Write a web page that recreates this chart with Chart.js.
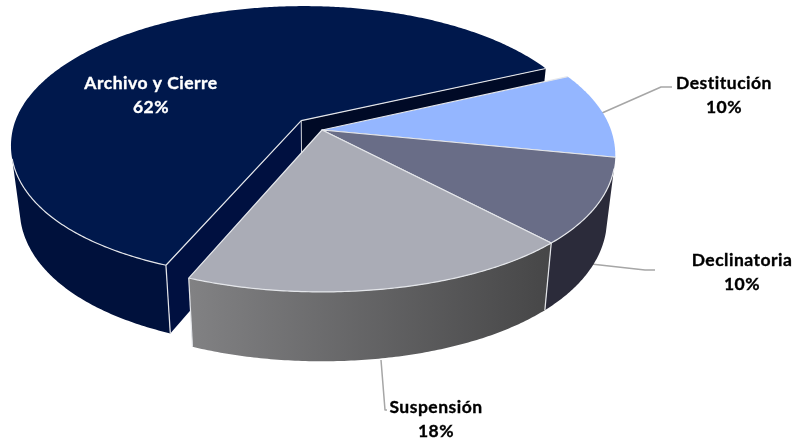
<!DOCTYPE html>
<html><head><meta charset="utf-8">
<style>html,body{margin:0;padding:0;background:#fff}#w{width:795px;height:441px}</style>
<script src="https://cdn.jsdelivr.net/npm/chart.js@4"></script></head>
<body><div id="w"><canvas id="c" width="795" height="441"></canvas></div>
<script>
const categories = ['Archivo y Cierre','Destitución','Declinatoria','Suspensión'];
const percentages = [62,10,10,18];
const topColors = ['#00184c','#94b6ff','#696d87','#aaacb6'];
const wallColors = ['#00113c','#6f88bf','#2b2b3a',null];
const explodeOffsets = [29,0,0,0];

const TILT = 0.47, PERSP = 0.161, DEPTH = 62, SHRINK = 0.00045, FRONT_WIDEN = 0.055, FRONT_SIN = 0.27;
const labelLayout = [
  {x:151,y:83,color:'#ffffff',line:null},
  {x:724,y:83,color:'#000000',line:[[602,113],[661,87],[672,87]]},
  {x:742,y:260,color:'#000000',line:[[591,264],[645,270],[655,270]]},
  {x:436,y:407,color:'#000000',line:[[381,360],[385,410],[387,410]]}
];
function project(el,px,py,z){
  const v = py/el.outerRadius, w = 1 - PERSP*v, s = 1 - SHRINK*z;
  const widen = 1 + FRONT_WIDEN*Math.max(0,v)*Math.max(0,v);
  return [el.x + px/w*s*widen, el.y + TILT*py/w*s + z/w];
}
function polar(el,ox,oy,a,r,z){ return project(el, ox+r*Math.cos(a), oy+r*Math.sin(a), z); }
function poly(ctx,pts){ ctx.beginPath(); pts.forEach((p,i)=>i?ctx.lineTo(p[0],p[1]):ctx.moveTo(p[0],p[1])); ctx.closePath(); }
function angles(el,frontOnly){
  const out=[], n=Math.max(2,Math.ceil((el.endAngle-el.startAngle)/0.01));
  for(let i=0;i<=n;i++){ const a=el.startAngle+(el.endAngle-el.startAngle)*i/n; if(!frontOnly||Math.sin(a)>FRONT_SIN) out.push(a); }
  return out;
}
function stroke(ctx,pts,color,width){ ctx.beginPath(); pts.forEach((p,i)=>i?ctx.lineTo(p[0],p[1]):ctx.moveTo(p[0],p[1])); ctx.strokeStyle=color; ctx.lineWidth=width; ctx.lineJoin='round'; ctx.stroke(); }

const pie3d = {
  id:'pie3d',
  beforeDatasetsDraw(chart){
    const ctx = chart.ctx, els = chart.getDatasetMeta(0).data;
    ctx.save();
    labelLayout.forEach(l=>{ if(l.line) stroke(ctx,l.line,'#a6a6a6',1.5); });
    els.forEach((el,i)=>{
      const mid=(el.startAngle+el.endAngle)/2, off=el.options.offset||0;
      const ox=off*Math.cos(mid), oy=off*Math.sin(mid);
      const at=(a,z)=>polar(el,ox,oy,a,el.outerRadius,z);
      const all=angles(el,false), front=angles(el,true);
      const top=all.map(a=>at(a,0));
      const frontTop=front.map(a=>at(a,0)), frontBottom=front.map(a=>at(a,DEPTH)).reverse();
      const s0=at(el.startAngle,0), s1=at(el.startAngle,DEPTH), e0=at(el.endAngle,0), e1=at(el.endAngle,DEPTH);
      const apex=project(el,ox,oy,0), apexB=project(el,ox,oy,DEPTH);
      if(front.length){
        poly(ctx,frontTop.concat(frontBottom));
        if(wallColors[i]) ctx.fillStyle=wallColors[i];
        else { const g=ctx.createLinearGradient(186,0,545,0); g.addColorStop(0,'#828284'); g.addColorStop(1,'#474748'); ctx.fillStyle=g; }
        ctx.fill();
      }
      if(i===0){
        poly(ctx,[apex,s0,s1,apexB]); ctx.fillStyle='#001040'; ctx.fill();
        poly(ctx,[apex,e0,e1,apexB]); ctx.fillStyle='#000a26'; ctx.fill();
      }
      poly(ctx,[apex].concat(top)); ctx.fillStyle=el.options.backgroundColor; ctx.fill();
      stroke(ctx,[e0,apex,s0],'#e4e6ea',1.2);
      if(frontTop.length) stroke(ctx,frontTop,'#e4e6ea',1.2);
      if(i===0){ stroke(ctx,[s0,s1],'#e4e6ea',1.2); stroke(ctx,[apex,apexB],'#c9ccd2',1); }
      if(i===3){ stroke(ctx,[s0,s1],'#e4e6ea',1.2); stroke(ctx,[e0,e1],'#e4e6ea',1.2); }
    });
    ctx.restore();
    return false;
  },
  afterDraw(chart){
    const ctx=chart.ctx; ctx.save();
    ctx.font='bold 17.5px Lato'; ctx.letterSpacing='0.5px'; ctx.textAlign='center'; ctx.textBaseline='middle';
    ctx.lineWidth=0.35;
    categories.forEach((name,i)=>{
      const l=labelLayout[i]; ctx.fillStyle=l.color; ctx.strokeStyle=l.color;
      [[name,l.y],[percentages[i]+'%',l.y+24]].forEach(([t,y])=>{ ctx.fillText(t,l.x,y); ctx.strokeText(t,l.x,y); });
    });
    ctx.restore();
  }
};
new Chart(document.getElementById('c'),{
  type:'pie',
  data:{labels:categories,datasets:[{data:percentages,backgroundColor:topColors,offset:explodeOffsets,borderWidth:0}]},
  options:{
    responsive:false,animation:false,rotation:202,radius:289,
    layout:{padding:{left:0,top:0,right:151,bottom:181}},
    plugins:{legend:{display:false},tooltip:{enabled:false}}
  },
  plugins:[pie3d]
});
</script></body></html>
